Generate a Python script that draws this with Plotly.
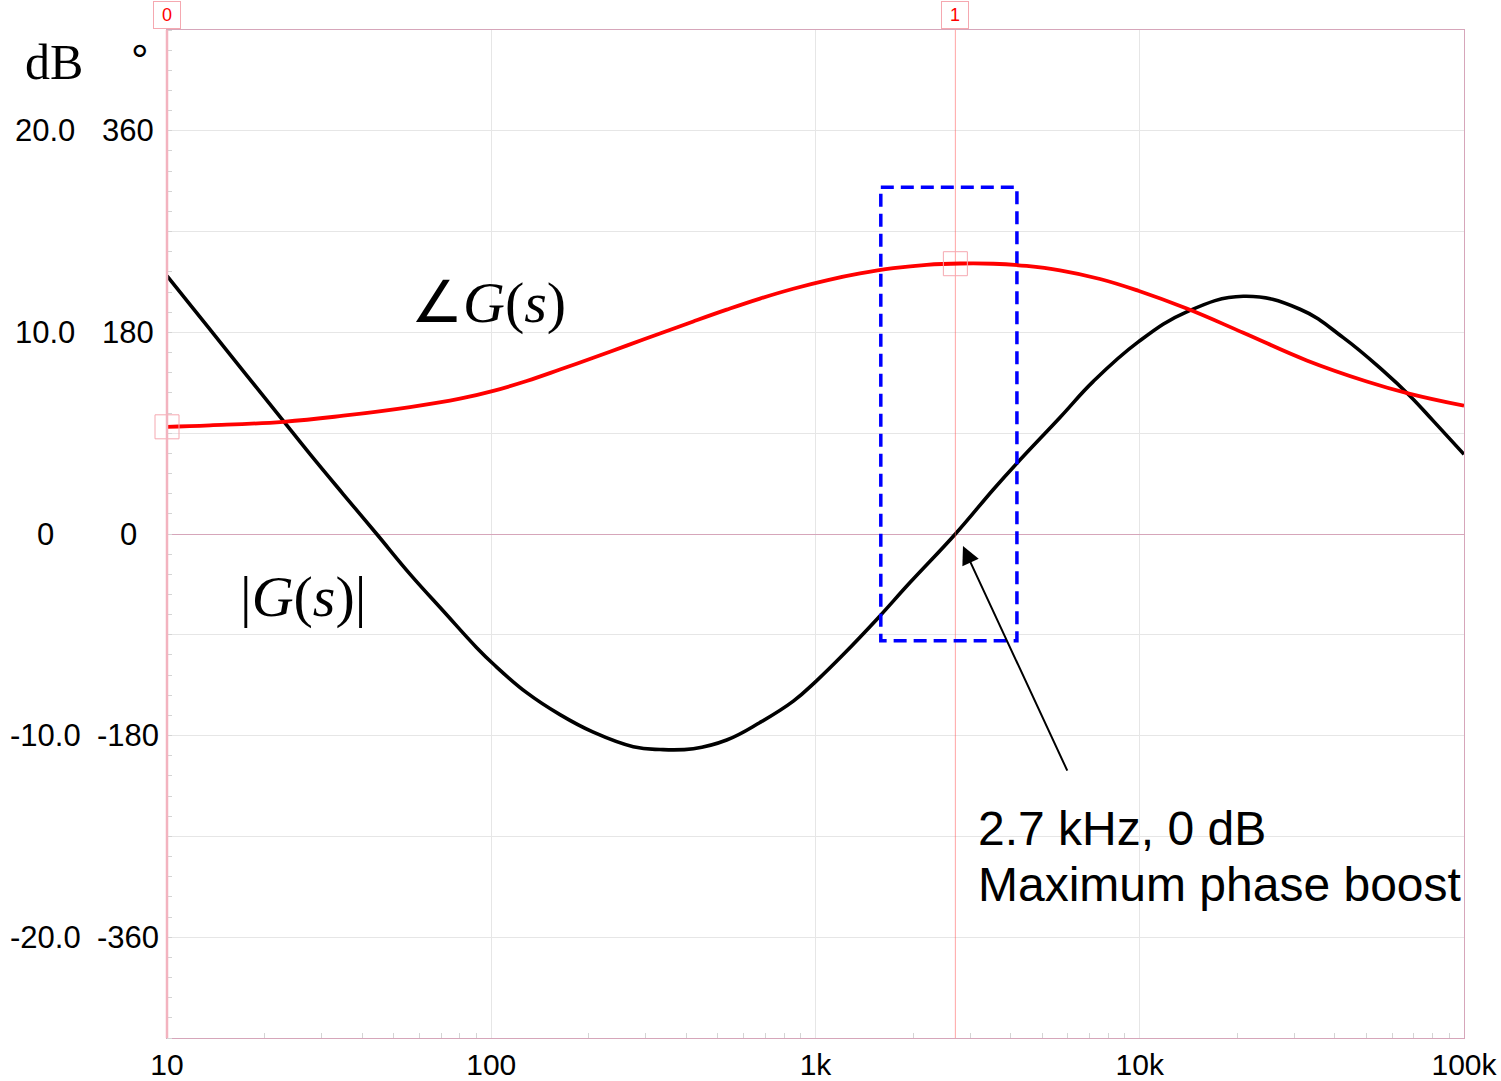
import math
import numpy as np
import plotly.graph_objects as go

# Magnitude response |G(s)| in dB
MAG_HZ = [10, 12.05, 15.28, 19.36, 22.84, 27.61, 34.98, 44.33, 56.16, 71.14, 90.18,
          101.5, 128.6, 162.9, 206.4, 274.2, 331.5, 420.0, 532.2, 674.3, 854.2,
          1009, 1218, 1544, 1956, 2700, 3535, 4174, 5675, 7192, 9897, 13960,
          20860, 31210, 42430, 56370, 68140, 80400, 100000]
MAG_DB = [12.80, 11.18, 9.11, 7.05, 5.61, 3.96, 1.97, 0.0, -1.99, -3.82, -5.64,
          -6.45, -7.87, -8.96, -9.83, -10.55, -10.69, -10.65, -10.22, -9.35, -8.29,
          -7.27, -5.98, -4.24, -2.41, 0.0, 2.21, 3.50, 5.78, 7.57, 9.53, 11.02,
          11.79, 11.15, 9.74, 8.09, 6.85, 5.61, 3.95]

# Phase response angle G(s) in degrees
PH_HZ = [10, 13.57, 22.84, 34.98, 56.16, 80.09, 101.5, 128.6, 162.9, 206.4,
         261.6, 331.5, 420.0, 532.2, 674.3, 854.2, 1083, 1372, 1738, 2202,
         2790, 3535, 4479, 5675, 7542, 9897, 13960, 20860, 32730, 50120,
         68140, 100000]
PH_DEG = [95.7, 97.0, 100.2, 105.6, 113.3, 120.8, 127.8, 136.6, 146.8, 157.4,
          168.2, 179.0, 189.8, 200.3, 210.2, 219.0, 226.5, 232.6, 237.3, 240.3,
          241.5, 241.3, 239.3, 235.4, 227.7, 217.2, 201.3, 179.7, 155.0, 136.2,
          125.1, 114.5]

# Axis ticks
X_TICKS = [10, 100, 1000, 10000, 100000]
X_LABELS = ["10", "100", "1k", "10k", "100k"]
DB_TICKS = [20, 10, 0, -10, -20]
DB_LABELS = ["20.0", "10.0", "0", "-10.0", "-20.0"]
DEG_TICKS = [360, 180, 0, -180, -360]
DEG_LABELS = ["360", "180", "0", "-180", "-360"]

# Cursors
CURSOR_HZ = [10, 2700]
CURSOR_NAMES = ["0", "1"]

# Highlight box around the crossover
BOX_HZ = (1590, 4180)
BOX_DB = (-5.3, 17.2)

GRID = "#e6e6e6"
FRAME = "#d6a6ba"
CURSOR_PINK = "#f3b3bf"
SANS = "Liberation Sans, Arial, sans-serif"
SERIF = "Liberation Serif, Times New Roman, serif"

minor_x = [m * 10 ** d for d in range(1, 5) for m in range(2, 10)]

fig = go.Figure()

fig.add_trace(go.Scatter(
    x=PH_HZ, y=PH_DEG, yaxis="y2", mode="lines",
    line=dict(color="#ff0000", width=3.8, shape="spline", smoothing=1.2),
    hoverinfo="skip"))

fig.add_trace(go.Scatter(
    x=MAG_HZ, y=MAG_DB, mode="lines",
    line=dict(color="#000000", width=3.6, shape="spline", smoothing=1.2),
    hoverinfo="skip"))

# Cursor 1 vertical line
fig.add_trace(go.Scatter(
    x=[CURSOR_HZ[1], CURSOR_HZ[1]], y=[-25, 25], mode="lines",
    line=dict(color="rgba(255,90,90,0.55)", width=1), hoverinfo="skip"))

# Cursor markers on the phase curve
log_ph = np.log10(PH_HZ)
cur_deg = [float(np.interp(math.log10(f), log_ph, PH_DEG)) for f in CURSOR_HZ]
fig.add_trace(go.Scatter(
    x=CURSOR_HZ, y=cur_deg, yaxis="y2", mode="markers", cliponaxis=False,
    marker=dict(symbol="square-open", size=24, color="#f5a8b0",
                line=dict(width=1, color="#f5a8b0")),
    hoverinfo="skip"))

# Dashed highlight box
fig.add_trace(go.Scatter(
    x=[BOX_HZ[0], BOX_HZ[1], BOX_HZ[1], BOX_HZ[0], BOX_HZ[0]],
    y=[BOX_DB[1], BOX_DB[1], BOX_DB[0], BOX_DB[0], BOX_DB[1]],
    mode="lines", line=dict(color="#0000ff", width=3.5, dash="13px,7px"),
    hoverinfo="skip"))

annotations = []
for v, t in zip(DB_TICKS, DB_LABELS):
    annotations.append(dict(x=-0.094, xref="paper", y=v, yref="y", text=t,
                            showarrow=False, xanchor="center", yanchor="middle",
                            font=dict(family=SANS, size=31, color="black")))
for v, t in zip(DEG_TICKS, DEG_LABELS):
    annotations.append(dict(x=-0.030, xref="paper", y=v, yref="y2", text=t,
                            showarrow=False, xanchor="center", yanchor="middle",
                            font=dict(family=SANS, size=31, color="black")))

annotations += [
    dict(x=-0.087, xref="paper", y=0.968, yref="paper", text="dB", showarrow=False,
         xanchor="center", yanchor="middle",
         font=dict(family=SERIF, size=50, color="black")),
    dict(x=-0.021, xref="paper", y=0.982, yref="paper", yshift=-12, text="°",
         showarrow=False, xanchor="center", yanchor="middle",
         font=dict(family=SANS, size=44, color="black")),
    dict(x=0.248, xref="paper", y=0.730, yref="paper",
         text="∠<i>G</i>(<i>s</i>)", showarrow=False,
         xanchor="center", yanchor="middle",
         font=dict(family=SERIF, size=58, color="black")),
    dict(x=0.105, xref="paper", y=0.438, yref="paper",
         text="|<i>G</i>(<i>s</i>)|", showarrow=False,
         xanchor="center", yanchor="middle",
         font=dict(family=SERIF, size=58, color="black")),
    dict(x=0.6137, xref="paper", y=0.488, yref="paper", text="",
         showarrow=True, ax=105, ay=226, arrowhead=2, arrowsize=1.8,
         arrowwidth=2, arrowcolor="black", standoff=0),
    dict(x=0.6238, xref="paper", y=0.2083, yref="paper", text="2.7 kHz, 0 dB",
         showarrow=False, xanchor="left", yanchor="middle",
         font=dict(family=SANS, size=48, color="black")),
    dict(x=0.6238, xref="paper", y=0.1518, yref="paper", text="Maximum phase boost",
         showarrow=False, xanchor="left", yanchor="middle",
         font=dict(family=SANS, size=48, color="black")),
]

for f, name in zip(CURSOR_HZ, CURSOR_NAMES):
    annotations.append(dict(x=math.log10(f), xref="x", y=1.0, yref="paper",
                            yanchor="bottom", yshift=1, text=name, showarrow=False,
                            bordercolor="#f5a8b0", borderwidth=1, borderpad=3,
                            width=20, bgcolor="white",
                            font=dict(family=SANS, size=18, color="#ff0000")))

fig.update_layout(
    width=1501, height=1081,
    margin=dict(l=167, r=37, t=30, b=43, autoexpand=False),
    paper_bgcolor="white", plot_bgcolor="white",
    showlegend=False,
    xaxis=dict(type="log", range=[1, 5], tickvals=X_TICKS, ticktext=X_LABELS,
               showgrid=True, gridcolor=GRID, gridwidth=1, ticks="",
               showline=True, linecolor=FRAME, linewidth=1, mirror=True,
               zeroline=False, automargin=False,
               tickfont=dict(family=SANS, size=30, color="black"),
               minor=dict(tickvals=minor_x, ticks="inside", ticklen=5,
                          tickcolor="#d4d4d4", showgrid=False)),
    yaxis=dict(range=[-25, 25], tickvals=[-20, -15, -10, -5, 0, 5, 10, 15, 20],
               showticklabels=False, ticks="", showgrid=True, gridcolor=GRID,
               gridwidth=1, zeroline=True, zerolinecolor=FRAME, zerolinewidth=1,
               showline=True, linecolor=FRAME, linewidth=1, mirror=True,
               automargin=False,
               minor=dict(tickmode="linear", tick0=0, dtick=1, ticks="inside",
                          ticklen=5, tickcolor="#d4d4d4", showgrid=False)),
    yaxis2=dict(range=[-450, 450], overlaying="y", side="left",
                showgrid=False, showticklabels=False, zeroline=False,
                showline=False, ticks="", automargin=False),
    annotations=annotations,
    shapes=[dict(type="line", xref="paper", yref="paper", x0=0, x1=0, y0=0, y1=1,
                 line=dict(color=CURSOR_PINK, width=2.5))],
)

fig.write_html("out.html")
